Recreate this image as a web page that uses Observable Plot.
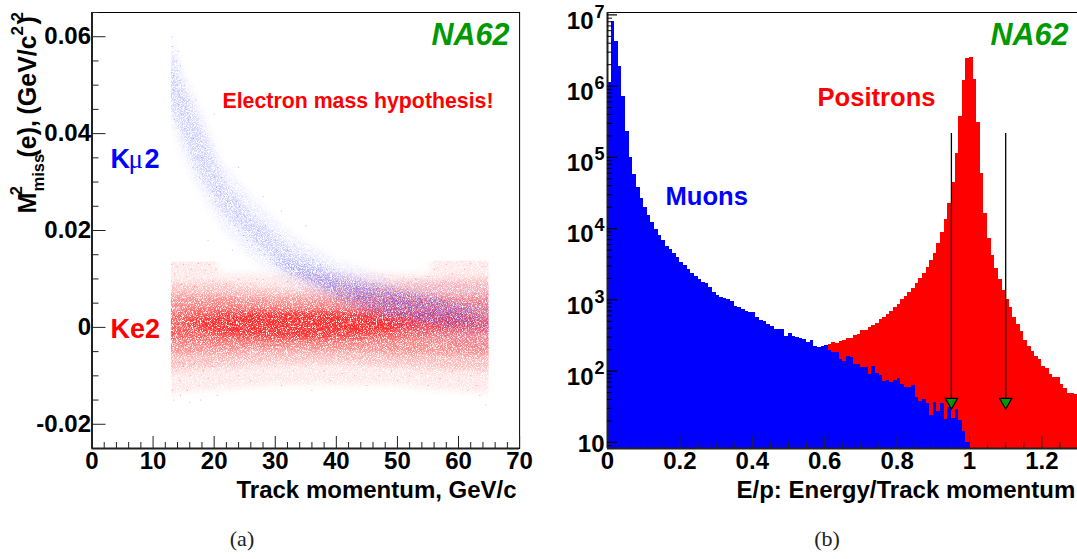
<!DOCTYPE html>
<html><head><meta charset="utf-8">
<script src="https://cdn.jsdelivr.net/npm/d3@7"></script>
<script src="https://cdn.jsdelivr.net/npm/@observablehq/plot@0.6"></script>
<style>
html,body{margin:0;padding:0;background:#fff}
#wrap{position:relative;width:1077px;height:559px;overflow:hidden}
#a,#b{position:absolute;top:0}
#a{left:0}#b{left:530px}
.cap{position:absolute;top:526px;font:22px "Liberation Serif";color:#222;transform:translateX(-50%)}
</style></head><body>
<svg width="0" height="0" style="position:absolute"><defs>
<filter id="grainA" filterUnits="userSpaceOnUse" x="0" y="0" width="530" height="500" color-interpolation-filters="sRGB">
 <feGaussianBlur in="SourceGraphic" stdDeviation="3" result="soft"/>
 <feTurbulence type="fractalNoise" baseFrequency="1.2" numOctaves="2" seed="3" result="n"/>
 <feColorMatrix in="n" type="matrix" values="0 0 0 0 0 0 0 0 0 0 0 0 0 0 0 4 0 0 0 -1.2" result="mask"/>
 <feComposite in="soft" in2="mask" operator="in"/>
</filter>
<filter id="grainB" filterUnits="userSpaceOnUse" x="0" y="0" width="530" height="500" color-interpolation-filters="sRGB">
 <feGaussianBlur in="SourceGraphic" stdDeviation="3" result="soft"/>
 <feTurbulence type="fractalNoise" baseFrequency="1.2" numOctaves="2" seed="11" result="n"/>
 <feColorMatrix in="n" type="matrix" values="0 0 0 0 0 0 0 0 0 0 0 0 0 0 0 4 0 0 0 -1.4" result="mask"/>
 <feComposite in="soft" in2="mask" operator="in"/>
</filter>
</defs></svg>
<div id="wrap"><div id="a"></div><div id="b"></div>
<div class="cap" style="left:242px">(a)</div><div class="cap" style="left:827px">(b)</div></div>
<script>
// Panel (b): log10 of counts per 0.01 bin of E/p
const muonLog10=[6.056,6.913,6.628,6.277,5.855,5.364,5.003,4.764,4.577,4.423,4.292,4.188,4.081,3.987,3.899,3.829,3.753,3.706,3.646,3.594,3.528,3.482,3.425,3.374,3.327,3.28,3.247,3.225,3.177,3.107,3.06,3.037,3.018,3.0,2.98,2.906,2.896,2.864,2.84,2.826,2.817,2.747,2.709,2.7,2.649,2.63,2.587,2.583,2.583,2.489,2.522,2.485,2.466,2.452,2.438,2.4,2.428,2.344,2.335,2.35,2.358,2.288,2.26,2.26,2.157,2.138,2.204,2.194,2.091,2.091,2.045,2.045,1.951,2.063,1.96,1.937,1.857,1.867,1.843,1.867,1.89,1.81,1.773,1.773,1.796,1.632,1.576,1.595,1.539,1.375,1.553,1.436,1.539,1.314,1.483,1.337,1.455,1.305,1.155,1.0];
const positronStart=61;
const positronLog10=[2.372,2.396,2.386,2.419,2.428,2.452,2.461,2.499,2.513,2.564,2.569,2.606,2.644,2.672,2.728,2.751,2.794,2.836,2.897,2.934,3.0,3.046,3.107,3.159,3.224,3.299,3.374,3.458,3.552,3.655,3.786,3.94,4.123,4.348,4.648,5.06,5.579,6.075,6.384,6.398,6.089,5.486,4.769,4.207,3.866,3.622,3.435,3.28,3.131,3.004,2.887,2.747,2.653,2.555,2.428,2.344,2.274,2.204,2.162,2.063,2.03,1.951,1.914,1.914,1.806,1.759,1.689,1.689,1.67];
const cutEdges=[0.95,1.1];
// Panel (a): density envelopes, in 1e-3 (GeV/c^2)^2
const ke2Bands=[
 {op:.1,x:[9,20.3,20.6,30,40,50,55.5,55.8,69],lo:[-14,-13,-13,-12,-12,-12,-13,-13,-14],hi:[17,17,11,11,11,11,11,17,17]},
 {op:.18,x:[9,20,30,40,50,60,69],lo:[-9,-8.5,-7.5,-7.5,-8,-9,-9],hi:[9,9,8,8,9,10,10]},
 {op:.27,x:[9,20,30,40,50,69],lo:[-5.5,-5.5,-5,-5,-5.5,-6],hi:[6,6.5,6,6,6.5,6.5]},
 {op:.34,x:[9,20,30,40,50,60,69],lo:[-2.5,-3,-3,-3,-2.5,-1,-.5],hi:[2.5,4,3.5,3.5,3.5,2.5,1]},
 {op:.5,x:[15,22,30,38,46,54],lo:[.5,-1.5,-2.2,-2.2,-1.5,.3],hi:[1,2.8,3.2,3.2,2.4,.8]}];
const ke2Outline={x:[13,65,65,13],y:[13.5,13.7,-17,-17]};
const kmuBands=[
 {op:.07,x:[9,13,15,18,21.5,27,33,40,50,60,69],lo:[48,42,35,27,20,13,8.5,4,-.5,-4,-5],hi:[68,60,53,45,34,26,19,14,10,9,9]},
 {op:.12,x:[9,13,15,18,21.5,27,33,40,50,60,69],lo:[52,46,39,31,24,16.5,11,7,2,-1,-1],hi:[64,56,49,41,30,22,16,11.5,7.5,5,4]},
 {op:.18,x:[30,36,40,46,52,58,63],lo:[13,9,6,3,1.5,.5,1],hi:[14,12,10,8.5,7,5.5,3]}];
const kmuOutline={x:[13,65,65,13],y:[70,70,-17,-17]};
const kmuPts=[13.2,58,13.1,60,13.4,52,13.6,47,13.8,55,13.3,49,14,53,14.2,46,14.4,51,14.6,44,14.8,49,14.1,57,14.5,54,13.7,45,13.9,50,14.3,48,14.9,42,13.5,43,15,47,15.2,41,15.4,45,15.6,38,15.8,43,16,40,16.2,36,16.4,42,16.6,39,16.8,35,17,38,15.1,50,15.9,47,16.5,33,17.2,33,17.4,37,17.6,31,17.8,40,18,35,18.2,30,18.4,34,18.6,37,18.8,29,19,33,19.2,27,19.4,31,19.6,35,19.8,28,20,31,20.2,26,20.4,29,20.6,33,20.8,25,21,28,21.2,31,21.4,24,21.6,27,21.8,30,22,23,22.2,26,22.4,29,22.6,22,22.8,25,23,28,23.2,24,23.4,21,23.6,26,23.8,23,24,20,24.2,25,24.4,22,24.6,27,24.8,19,25,23,25.2,21,25.4,18,25.6,24,25.8,20,26,22,26.2,17,26.4,21,26.6,19,26.8,23,27,18,27.2,20,27.4,16,27.6,22,27.8,19,28,17,28.2,15,28.4,21,28.6,18,28.8,16,29,19,29.2,14,29.4,17,29.6,20,29.8,15,30,18,30.2,13,30.4,16,30.6,14,30.8,19,31,15,31.2,12,31.4,17,31.6,14,31.8,11.5,32,16,32.2,13,32.4,15,32.6,11,32.8,14,33,12,33.2,17,33.4,10,33.6,13,33.8,15,34,11,34.2,14,34.4,12,34.6,10,34.8,13,35,15,35.2,11,35.4,9,35.6,13,35.8,10.5,36,12,36.2,14,36.4,9.5,36.6,11,36.8,8.5,37,12,37.2,10,37.4,13,37.6,9,37.8,11,38,7.5,38.2,10,38.4,12,38.6,8.5,38.8,11,39,9,39.2,6.5,39.4,10.5,39.6,12,39.8,8,40,10,40.3,7,40.6,11,40.9,9,41.2,5.5,41.5,8,41.8,10,42.1,7,42.4,11,42.7,6,43,9,43.3,4.5,43.6,8,43.9,10,44.2,6,44.5,7.5,44.8,3.5,45.1,9,45.4,5.5,45.7,7,46,2.5,46.3,8,46.6,4.5,46.9,6.5,47.2,9,47.5,3,47.8,5,48.1,7,48.4,1.5,48.7,6,49,4,49.3,8,49.6,2.5,49.9,5.5,50.2,7,50.5,3,50.8,1,51.1,6,51.4,4,51.7,8,52,2,52.3,5,52.6,0,52.9,7,53.2,3,53.5,5,53.8,1,54.1,6.5,54.4,3.5,54.7,-1,55,5,55.3,2,55.6,7,55.9,0,56.2,4,56.5,-2,56.8,6,57.1,2,57.4,3.5,57.7,-1,58,5,58.3,1,58.6,7,58.9,-2.5,59.2,3,59.5,5,59.8,0,60.1,2,60.4,-3,60.7,6,61,1,61.3,4,61.6,-1.5,61.9,3,62.2,7,62.5,0,62.8,-3.5,63.1,2,63.4,5,63.7,-1,64,3,64.3,-2.5,64.6,6,64.9,1,20,44,24,33,28,27,31,24,35,21,17,47,19,18,23,16,27,10,32,6];
const ke2Pts=[13.1,13,13.5,11,14,12.5,14.6,9,15,13,15.5,10.5,16.2,12,16.8,8.5,17.4,13.2,18,10,18.6,11.8,19.2,13,19.8,9.5,20.3,12,13.2,-7,13.8,-9,14.4,-11,15,-8,15.6,-13,16.2,-10,16.8,-7.5,17.5,-12,18.2,-9,19,-10.5,19.8,-8,20.5,-14,13.4,-15,14.5,-14,16,-15.5,17.8,-15,13.2,-13,22,-9,24,-10,26,-11,28,-9,30,-8,31,-12,33,-9,35,-8,36,-13,38,-9,39,-11,41,-9.5,43,-10,45,-12,47,-10,49,-9,50,-11,52,-10,54,-9.5,55,-12,57,-10.5,59,-9,60,-11,62,-10,63,-12,64,-9,64.5,-16,63.5,-14,61.5,-13,22,9,24,10,26,9,28,10,30,9,32,9.5,34,9,36,9.7,38,9,40,9.5,42,9,44,9.8,46,9,48,10,50,9,51,10.2,53,10,55,10.5,56,12,58,13,59,11,61,12,62,13.3,64,12.5];
const pairs=a=>d3.range(0,a.length,2).map(i=>({x:a[i],y:a[i+1]/1000}));
const bandRows=b=>b.x.map((x,i)=>({x,lo:b.lo[i]/1000,hi:b.hi[i]/1000}));
// soft speckled rendering of a density envelope, clipped to the accepted region
let clipId=0;
function grained(filterId,outline){
  return (index,scales,values,dims,ctx,next)=>{
    const g=next(index,scales,values,dims,ctx);
    const cp=document.createElementNS("http://www.w3.org/2000/svg","clipPath");
    cp.id="clip"+(++clipId);
    const pg=document.createElementNS("http://www.w3.org/2000/svg","polygon");
    pg.setAttribute("points",outline.x.map((x,i)=>scales.x(x)+","+scales.y(outline.y[i]/1000)).join(" "));
    cp.append(pg);g.append(cp);
    g.setAttribute("filter","url(#"+filterId+")");
    g.setAttribute("clip-path","url(#"+cp.id+")");
    return g;
  };
}
const ft="Liberation Sans";
function label(txt,x,y,size,fill,ox,oy,extra={}){
  return Plot.text([txt],{text:d=>d,frameAnchor:"top-left",dx:x-ox,dy:y-oy,lineAnchor:"bottom",textAnchor:"start",fontSize:size,fill,fontWeight:"bold",...extra});
}
const style={fontFamily:ft,fontWeight:"bold",background:"transparent",overflow:"visible"};
// ---------- panel (a)
const MLa=91.5,MTa=12;
const la=(t,x,y,s,f,e)=>label(t,x,y,s,f,MLa,MTa,e);
const rot={rotate:-90};
const A=Plot.plot({width:530,height:500,marginLeft:MLa,marginRight:10.9,marginTop:MTa,marginBottom:52,
 x:{domain:[0,70]},y:{domain:[-.025,.065]},style,
 marks:[
  ...ke2Bands.map(b=>Plot.areaY(bandRows(b),{x:"x",y1:"lo",y2:"hi",fill:"#ff0000",fillOpacity:b.op,render:grained("grainA",ke2Outline)})),
  Plot.dot(pairs(ke2Pts),{x:"x",y:"y",r:.5,fill:"#ff2020",fillOpacity:.5}),
  ...kmuBands.map(b=>Plot.areaY(bandRows(b),{x:"x",y1:"lo",y2:"hi",fill:"#0000ff",fillOpacity:b.op,render:grained("grainB",kmuOutline)})),
  Plot.dot(pairs(kmuPts),{x:"x",y:"y",r:.5,fill:"#2222ff",fillOpacity:.4}),
  Plot.frame({stroke:"#000",strokeWidth:1}),
  Plot.ruleX([0],{stroke:"#222",strokeWidth:2}),Plot.ruleY([-.025],{stroke:"#222",strokeWidth:2}),
  Plot.axisX(d3.range(0,71,2).filter(d=>d%10),{tickSize:-6,text:null,strokeWidth:1,stroke:"#222",label:null}),
  Plot.axisX(d3.range(0,71,10),{tickSize:-12,tickPadding:15,fontSize:24,strokeWidth:1,stroke:"#222",label:null,fontWeight:"bold",fill:"#000"}),
  Plot.axisY(d3.range(-.02,.0651,.005).filter(d=>Math.abs((d*100)%2)>.1&&Math.abs((d*100)%2)<1.9),{tickSize:-7,text:null,strokeWidth:1,stroke:"#222",label:null}),
  Plot.axisY([-.02,0,.02,.04,.06],{tickSize:-14,tickPadding:15,fontSize:24,strokeWidth:1,stroke:"#222",label:null,fill:"#000",tickFormat:d=>d===0?"0":String(d)}),
  la("Track momentum, GeV/c",236,497,24,"#000"),
  la("M",35,213,25,"#000",rot),la("2",21,195,17,"#000",rot),la("miss",43,191,16.5,"#000",rot),
  la("(e),",35,157,25,"#000",rot),la("(GeV/c",35,114,25,"#000",rot),la("2",22,35,17,"#000",rot),la(")",35,24,25,"#000",rot),la("2",22,21,17,"#000",rot),
  la("K",110,167,27,"#0000ff"),la("μ",128,167,27,"#0000ff",{fontFamily:"Liberation Serif",fontWeight:"normal"}),la("2",144,167,27,"#0000ff"),
  la("Ke2",110,337,27,"#ff0000"),
  la("Electron mass hypothesis!",222,107,21.3,"#ff0000"),
  la("NA62",431,44,30.5,"#009900",{fontStyle:"italic"})
 ]});
document.getElementById("a").append(A);
// ---------- panel (b)
const MLb=77,MTb=12,yMin=8.2,yMax=1.08e7;
const lb=(t,x,y,s,f,e)=>label(t,x-530,y,s,f,MLb,MTb,e);
const decades=[1,2,3,4,5,6,7];
const minors=[];decades.forEach(k=>{for(let m=2;m<10;m++){const v=m*10**(k-1);if(v>yMin&&v<yMax)minors.push(v)}});
const muons=muonLog10.map((e,i)=>({x1:i*.01,x2:(i+1)*.01,v:10**e}));
const positrons=positronLog10.map((e,i)=>({x1:(positronStart+i)*.01,x2:(positronStart+i+1)*.01,v:10**e}));
const expo=decades.slice(1);
const B=Plot.plot({width:547,height:500,marginLeft:MLb,marginRight:-.6,marginTop:MTb,marginBottom:52,
 x:{domain:[0,1.3]},y:{type:"log",domain:[yMin,yMax]},style,
 marks:[
  Plot.rect(positrons,{x1:"x1",x2:"x2",y1:yMin,y2:"v",fill:"#ff0000",shapeRendering:"crispEdges"}),
  Plot.rect(muons,{x1:"x1",x2:"x2",y1:yMin,y2:"v",fill:"#0000ff",shapeRendering:"crispEdges"}),
  Plot.ruleX(cutEdges,{y1:32,y2:2.17e5,stroke:"#000",strokeWidth:1.3}),
  Plot.dot(cutEdges,{x:d=>d,y:37,symbol:"triangle",rotate:180,r:4.6,fill:"#009900",stroke:"#000",strokeWidth:1.2}),
  Plot.frame({stroke:"#000",strokeWidth:1}),
  Plot.ruleX([0],{stroke:"#222",strokeWidth:2}),Plot.ruleY([yMin],{stroke:"#222",strokeWidth:2}),
  Plot.axisX(d3.range(1,27).map(d=>d*.05).filter((d,i)=>(i+1)%4),{tickSize:-6,text:null,strokeWidth:1,stroke:"#222",label:null}),
  Plot.axisX([0,.2,.4,.6,.8,1,1.2],{tickSize:-12,tickPadding:15,fontSize:24,strokeWidth:1,stroke:"#222",label:null,fill:"#000",tickFormat:d=>String(d)}),
  Plot.axisY(minors,{tickSize:-5,text:null,strokeWidth:1,stroke:"#000",label:null}),
  Plot.axisY(decades.map(k=>10**k),{tickSize:-10,text:null,strokeWidth:1.2,stroke:"#000",label:null}),
  Plot.text(expo,{x:0,y:d=>10**d,text:()=>"10",dx:-14,dy:6,textAnchor:"end",fontSize:24,fill:"#000"}),
  Plot.text(expo,{x:0,y:d=>10**d,text:d=>String(d),dx:-3,dy:-3,textAnchor:"end",fontSize:18,fill:"#000"}),
  Plot.text([10],{x:0,y:d=>d,text:()=>"10",dx:-3,dy:2,textAnchor:"end",fontSize:24,fill:"#000"}),
  lb("E/p: Energy/Track momentum",736,497,24,"#000"),
  lb("Muons",665,204,25.6,"#0000ff"),
  lb("Positrons",817,105,25.6,"#ff0000"),
  lb("NA62",990,44,30.5,"#009900",{fontStyle:"italic"})
 ]});
document.getElementById("b").append(B);
</script></body></html>
